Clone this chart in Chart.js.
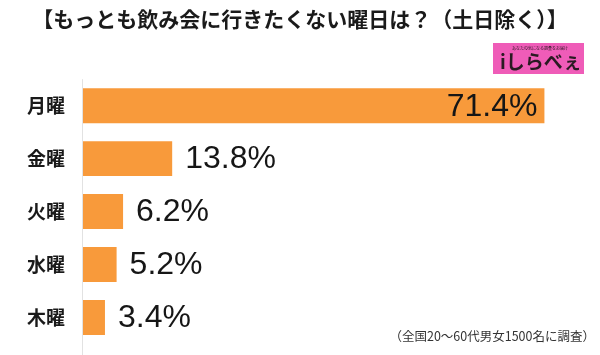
<!DOCTYPE html>
<html><head><meta charset="utf-8">
<script src="https://cdn.jsdelivr.net/npm/chart.js@4.4.1/dist/chart.umd.min.js"></script>
<style>html,body{margin:0;padding:0;background:#fff;}#wrap{width:600px;height:355px;}</style>
</head><body><div id="wrap"><canvas id="c" width="600" height="355"></canvas></div>
<script>
const titleText = '【もっとも飲み会に行きたくない曜日は？（土日除く）】';
const categories = ['月曜', '金曜', '火曜', '水曜', '木曜'];
const values = [71.4, 13.8, 6.2, 5.2, 3.4];
const footnote = '（全国20～60代男女1500名に調査）';
const JP = '"Noto Sans CJK JP", "Noto Sans", sans-serif';

const extras = {
  id: 'extras',
  afterDatasetsDraw(chart) {
    const ctx = chart.ctx;
    const meta = chart.getDatasetMeta(0);
    ctx.save();
    ctx.font = '32px "Liberation Sans", Arial, sans-serif';
    ctx.fillStyle = '#161616';
    ctx.textBaseline = 'middle';
    meta.data.forEach((bar, i) => {
      const label = values[i].toFixed(1) + '%';
      if (i === 0) {
        ctx.textAlign = 'right';
        ctx.fillText(label, bar.x - 7, bar.y + 1);
      } else {
        ctx.textAlign = 'left';
        ctx.fillText(label, bar.x + 13, bar.y + 1);
      }
    });
    // logo
    ctx.fillStyle = '#ef5cb8';
    ctx.fillRect(493, 43, 91, 31);
    ctx.fillStyle = '#2a1a22';
    ctx.font = 'bold 19px ' + JP;
    ctx.textAlign = 'left';
    ctx.fillText('\u0069しらべぇ', 500, 62);
    ctx.font = '4px ' + JP;
    ctx.fillText('あなたの気になる調査をお届け', 512, 48);
    // footnote
    ctx.font = '12.5px ' + JP;
    ctx.fillStyle = '#333';
    ctx.textAlign = 'right';
    ctx.fillText(footnote, 595, 336);
    ctx.restore();
  },
  beforeDatasetsDraw(chart) {
    const ctx = chart.ctx;
    const ys = chart.scales.y;
    ctx.save();
    ctx.strokeStyle = '#e2e2e2';
    ctx.lineWidth = 1;
    ctx.beginPath();
    ctx.moveTo(ys.right - 0.5, chart.chartArea.top);
    ctx.lineTo(ys.right - 0.5, chart.height);
    ctx.stroke();
    ctx.restore();
  }
};

new Chart(document.getElementById('c'), {
  type: 'bar',
  data: {
    labels: categories,
    datasets: [{
      data: values,
      backgroundColor: '#f89a3b',
      borderWidth: 0,
      categoryPercentage: 1,
      barPercentage: 0.66
    }]
  },
  options: {
    indexAxis: 'y',
    responsive: false,
    animation: false,
    devicePixelRatio: 1,
    layout: { padding: { top: 0, bottom: 11, left: 0, right: 0 } },
    plugins: {
      legend: { display: false },
      tooltip: { enabled: false },
      title: {
        display: true,
        text: titleText,
        color: '#1a1a1a',
        font: { family: JP, size: 21, weight: 'bold', lineHeight: 1.2 },
        padding: { top: 6, bottom: 48 }
      }
    },
    scales: {
      x: { display: false, min: 0, max: 80 },
      y: {
        grid: { display: false, drawTicks: false },
        border: { display: false },
        ticks: {
          color: '#1a1a1a',
          padding: 18,
          font: { family: JP, size: 19, weight: 'bold' }
        },
        afterFit(scale) {
          scale.width = 83;
          scale.paddingTop = 0;
          scale.paddingBottom = 0;
        }
      }
    }
  },
  plugins: [extras]
});
</script></body></html>
